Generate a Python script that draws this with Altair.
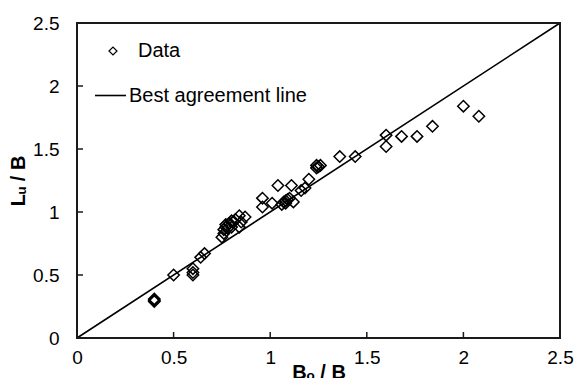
import altair as alt
import pandas as pd

# Data points (Bo/B, Lu/B)
bo = [0.40, 0.40, 0.40, 0.50, 0.60, 0.60, 0.60, 0.64, 0.66,
      0.75, 0.76, 0.76, 0.77, 0.77, 0.78, 0.79, 0.80, 0.80, 0.81, 0.82,
      0.84, 0.84, 0.85, 0.87,
      0.96, 0.96, 1.01, 1.04,
      1.06, 1.07, 1.08, 1.09, 1.10, 1.08,
      1.11, 1.12, 1.16, 1.18, 1.20,
      1.24, 1.25, 1.24, 1.26,
      1.36, 1.44, 1.60, 1.60, 1.68, 1.76, 1.84, 2.00, 2.08]
lu = [0.31, 0.29, 0.30, 0.50, 0.55, 0.50, 0.52, 0.64, 0.67,
      0.80, 0.83, 0.86, 0.88, 0.90, 0.87, 0.91, 0.88, 0.93, 0.92, 0.94,
      0.97, 0.88, 0.92, 0.96,
      1.11, 1.04, 1.07, 1.21,
      1.06, 1.08, 1.09, 1.10, 1.11, 1.07,
      1.21, 1.08, 1.17, 1.19, 1.26,
      1.35, 1.36, 1.37, 1.37,
      1.44, 1.44, 1.61, 1.52, 1.60, 1.60, 1.68, 1.84, 1.76]

# Best agreement line endpoints
line_x = [0.0, 2.5]
line_y = [0.0, 2.5]

tick_values = [0.5, 1.0, 1.5, 2.0]
axis_values = [0, 0.5, 1.0, 1.5, 2.0, 2.5]
axis_min, axis_max = 0.0, 2.5

legend_labels = ["Data", "Best agreement line"]

W, H = 483, 315
FONT = "Liberation Sans"
TICK_PX = 6
FRAME = "#1a1a1a"

pts = pd.DataFrame({"bo": bo, "lu": lu, "s1": legend_labels[0]})
ln = pd.DataFrame({"bo": line_x, "lu": line_y, "s2": legend_labels[1]})

# plot frame built from the axis limits
frame_df = pd.DataFrame({
    "bo": [axis_min, axis_max, axis_max, axis_min, axis_min],
    "lu": [axis_min, axis_min, axis_max, axis_max, axis_min],
    "o": [0, 1, 2, 3, 4],
})

# inward tick segments, built from the tick values
ty = (axis_max - axis_min) * TICK_PX / H
tx = (axis_max - axis_min) * TICK_PX / W
rows = []
for i, t in enumerate(tick_values):
    rows.append({"bo": t, "lu": axis_min, "k": f"x{i}", "o": 0})
    rows.append({"bo": t, "lu": axis_min + ty, "k": f"x{i}", "o": 1})
    rows.append({"bo": axis_min, "lu": t, "k": f"y{i}", "o": 0})
    rows.append({"bo": axis_min + tx, "lu": t, "k": f"y{i}", "o": 1})
ticks_df = pd.DataFrame(rows)

xs = alt.Scale(domain=[axis_min, axis_max], nice=False)
ys = alt.Scale(domain=[axis_min, axis_max], nice=False)

xaxis = alt.Axis(values=axis_values, format="~g", ticks=False, domain=False, grid=False,
                 labelFontSize=19, labelFont=FONT, labelColor="black", labelPadding=10,
                 title="Bₒ / B", titleFont=FONT, titleFontSize=20, titleFontWeight="bold",
                 titleColor="black", titleY=24, titleBaseline="top", labelFlush=False)
yaxis = alt.Axis(values=axis_values, format="~g", ticks=False, domain=False, grid=False,
                 labelFontSize=19, labelFont=FONT, labelColor="black", labelPadding=18,
                 title="Lᵤ / B", titleFont=FONT, titleFontSize=20, titleFontWeight="bold",
                 titleColor="black", titlePadding=4, labelFlush=False)

line = alt.Chart(ln).mark_line(strokeWidth=1.6).encode(
    x=alt.X("bo:Q", scale=xs, axis=xaxis),
    y=alt.Y("lu:Q", scale=ys, axis=yaxis),
    color=alt.Color("s2:N", scale=alt.Scale(domain=[legend_labels[1]], range=["black"]),
                    legend=alt.Legend(title=None, orient="none", legendX=17, legendY=56,
                                      padding=0, symbolType="stroke", symbolSize=961,
                                      symbolStrokeWidth=1.6, symbolStrokeColor="black",
                                      labelFontSize=20, labelFont=FONT, labelColor="black",
                                      labelOffset=2, labelLimit=400)),
)

frame = alt.Chart(frame_df).mark_line(color=FRAME, strokeWidth=2).encode(
    x=alt.X("bo:Q", scale=xs), y=alt.Y("lu:Q", scale=ys), order="o:Q")

tick_marks = alt.Chart(ticks_df).mark_line(color=FRAME, strokeWidth=1.5).encode(
    x=alt.X("bo:Q", scale=xs), y=alt.Y("lu:Q", scale=ys), detail="k:N", order="o:Q")

points = alt.Chart(pts).mark_point(filled=False, color="black", size=130,
                                   strokeWidth=1.5, opacity=1).encode(
    x=alt.X("bo:Q", scale=xs), y=alt.Y("lu:Q", scale=ys),
    shape=alt.Shape("s1:N", scale=alt.Scale(domain=[legend_labels[0]], range=["diamond"]),
                    legend=alt.Legend(title=None, orient="none", legendX=26, legendY=18,
                                      padding=0, symbolSize=64, symbolStrokeWidth=1.2,
                                      symbolStrokeColor="black", symbolFillColor="transparent",
                                      labelFontSize=20, labelFont=FONT, labelColor="black",
                                      labelOffset=15, labelLimit=400)),
)

chart = alt.layer(line, frame, tick_marks, points).properties(
    width=W, height=H,
    autosize=alt.AutoSizeParams(type="none"),
    padding={"left": 77, "top": 23, "right": 14, "bottom": 40},
    background="white",
).configure_view(stroke=FRAME, strokeWidth=2)

chart.save("out.html", embed_options={"renderer": "svg", "actions": False})
